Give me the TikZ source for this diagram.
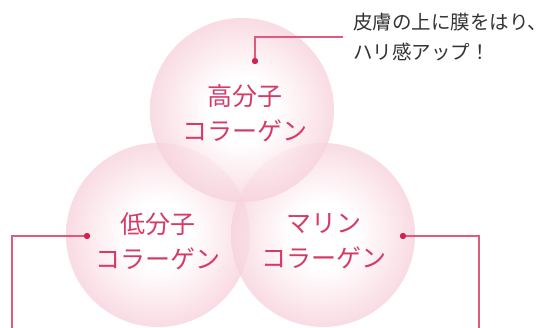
\documentclass[tikz,border=0pt]{standalone}
\usepackage{fontspec}
\newfontfamily\jp{Noto Sans CJK JP}
\definecolor{lbl}{HTML}{D83A66}
\definecolor{lead}{HTML}{E05A7D}
\definecolor{dotc}{HTML}{D6204F}
\definecolor{cap}{HTML}{333333}
\definecolor{pkA}{HTML}{F0A2B6}
\pgfdeclareradialshading{sphere}{\pgfpoint{0bp}{0bp}}{color(0bp)=(white); color(9bp)=(white); color(24bp)=(pkA!45!white); color(38bp)=(pkA!85!white); color(45bp)=(pkA); color(48bp)=(pkA!80!white); color(50bp)=(pkA!55!white)}
\tikzset{
  ball/.style={circle, minimum size=184pt, inner sep=0pt, shading=sphere, fill opacity=0.8},
  balltext/.style={font=\jp\fontsize{25}{35}\selectfont, text=lbl, align=center, inner sep=0pt},
  leader/.style={draw=lead, line width=1.2pt},
  dotmark/.style={circle, fill=dotc, minimum size=6pt, inner sep=0pt},
  captext/.style={font=\jp\fontsize{19.5}{30}\selectfont, text=cap, anchor=base west, inner sep=0pt}
}
\begin{document}
\begin{tikzpicture}[x=1pt,y=-1pt]
\useasboundingbox (0,0) rectangle (547,328);
\clip (0,0) rectangle (547,328);
% spheres
\node[ball] (L) at (158,235) {};
\node[ball] (R) at (323,235) {};
\node[ball] (T) at (242,110) {};
% labels
\node[balltext] (tT) at (245,113) {高分子\\コラーゲン};
\node[balltext] (tL) at (158,241) {低分子\\コラーゲン};
\node[balltext] (tR) at (324,241) {マリン\\コラーゲン};
% dots
\node[dotmark] (dT) at (255,61) {};
\node[dotmark] (dL) at (87,236) {};
\node[dotmark] (dR) at (403,236) {};
% leader ends
\coordinate (eT) at (343,37);
\coordinate (eL) at (12,330);
\coordinate (eR) at (479,330);
\draw[leader] (dT.center) |- (eT);
\draw[leader] (dL.center) -| (eL);
\draw[leader] (dR.center) -| (eR);
\node[dotmark] at (dT) {};
\node[dotmark] at (dL) {};
\node[dotmark] at (dR) {};
% caption
\node[captext] (c1) at (353,30) {皮膚の上に膜をはり、};
\node[captext] (c2) at (353,60) {ハリ感アップ！};
\end{tikzpicture}
\end{document}
